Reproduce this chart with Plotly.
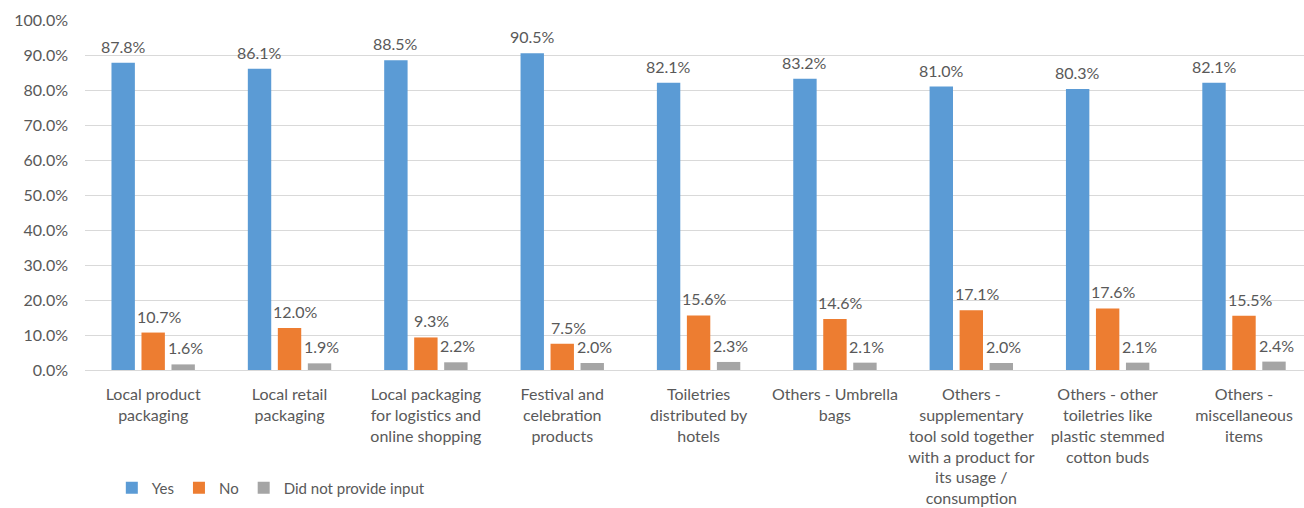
import plotly.graph_objects as go

# Survey responses per item category (percent of respondents)
categories = [
    "Local product<br>packaging",
    "Local retail<br>packaging",
    "Local packaging<br>for logistics and<br>online shopping",
    "Festival and<br>celebration<br>products",
    "Toiletries<br>distributed by<br>hotels",
    "Others - Umbrella<br>bags",
    "Others -<br>supplementary<br>tool sold together<br>with a product for<br>its usage /<br>consumption",
    "Others - other<br>toiletries like<br>plastic stemmed<br>cotton buds",
    "Others -<br>miscellaneous<br>items",
]
yes_values = [87.8, 86.1, 88.5, 90.5, 82.1, 83.2, 81.0, 80.3, 82.1]
no_values = [10.7, 12.0, 9.3, 7.5, 15.6, 14.6, 17.1, 17.6, 15.5]
no_input_values = [1.6, 1.9, 2.2, 2.0, 2.3, 2.1, 2.0, 2.1, 2.4]
y_ticks = [0, 10, 20, 30, 40, 50, 60, 70, 80, 90, 100]

FONT = "Lato, Open Sans, sans-serif"
TEXT = "#595959"
BARGAP = 0.34
BARGROUPGAP = 0.22

series = [
    ("Yes", yes_values, "#5B9BD5", 0),
    ("No", no_values, "#ED7D31", 6),
    ("Did not provide input", no_input_values, "#A5A5A5", 2),
]

x_idx = list(range(len(categories)))
slot = (1 - BARGAP) / len(series)

fig = go.Figure()
annotations = []
for k, (name, vals, color, label_nudge) in enumerate(series):
    fig.add_trace(go.Bar(
        name=name,
        x=x_idx,
        y=vals,
        marker=dict(color=color, line=dict(width=0)),
    ))
    # value labels sit just above each bar of this series
    offset = (k - (len(series) - 1) / 2) * slot
    for i, v in zip(x_idx, vals):
        annotations.append(dict(
            x=i + offset,
            y=v,
            xref="x",
            yref="y",
            text=f"{v:.1f}%",
            showarrow=False,
            yanchor="bottom",
            xanchor="center",
            yshift=5,
            xshift=label_nudge,
            font=dict(family=FONT, size=16, color=TEXT),
        ))

fig.update_layout(
    width=1304,
    height=508,
    margin=dict(l=85, r=0, t=20, b=138),
    paper_bgcolor="white",
    plot_bgcolor="white",
    barmode="group",
    bargap=BARGAP,
    bargroupgap=BARGROUPGAP,
    font=dict(family=FONT, color=TEXT),
    showlegend=True,
    legend=dict(
        orientation="h",
        x=0.022,
        xanchor="left",
        y=-0.337,
        yanchor="middle",
        font=dict(family=FONT, size=15, color=TEXT),
        itemwidth=30,
        traceorder="normal",
    ),
    annotations=annotations,
)

fig.update_xaxes(
    tickmode="array",
    tickvals=x_idx,
    ticktext=categories,
    range=[-0.5, 8.44],
    showgrid=False,
    showline=True,
    linecolor="#D9D9D9",
    linewidth=1,
    ticks="",
    tickangle=0,
    tickfont=dict(family=FONT, size=16, color=TEXT),
    ticklabelstandoff=10,
)

fig.update_yaxes(
    range=[0, 100],
    tickmode="array",
    tickvals=y_ticks,
    ticktext=[f"{t:.1f}%" for t in y_ticks],
    showgrid=True,
    gridcolor="#D9D9D9",
    gridwidth=1,
    zeroline=False,
    showline=False,
    ticks="",
    tickfont=dict(family=FONT, size=16, color=TEXT),
    ticklabelstandoff=16,
)

fig.write_html("out.html")
